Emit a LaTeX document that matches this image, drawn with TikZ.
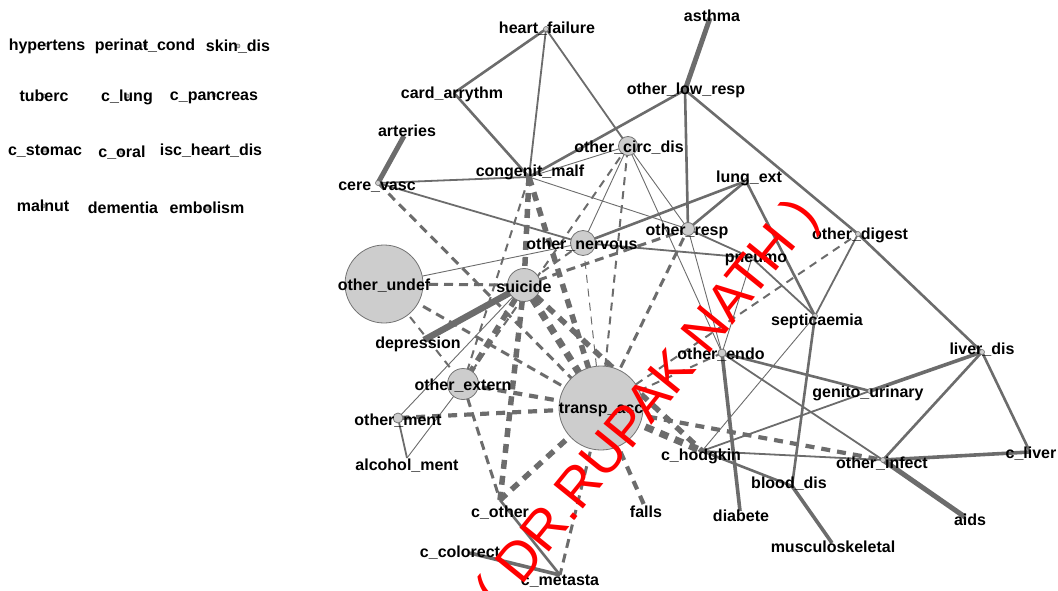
\documentclass[tikz,border=0pt]{standalone}
\usepackage{fontspec}
\setmainfont{Liberation Sans}
\definecolor{edgec}{RGB}{108,108,108}
\definecolor{vfill}{RGB}{205,205,205}
\definecolor{vline}{RGB}{115,115,115}
\definecolor{wmred}{RGB}{255,0,0}
\tikzset{
  lbl/.style={font=\fontsize{16}{18}\selectfont\bfseries, text height=11pt, text depth=0pt, inner sep=0pt},
  vtx/.style={circle, fill=vfill, draw=vline, line width=0.8pt, inner sep=0pt},
  dot/.style={circle, fill=vfill, draw=vline, line width=0.6pt, inner sep=0pt, minimum size=5pt},
  s1/.style={draw=edgec, line width=0.9pt},
  s2/.style={draw=edgec, line width=1.8pt},
  s3/.style={draw=edgec, line width=2.6pt},
  s4/.style={draw=edgec, line width=3.6pt},
  s5/.style={draw=edgec, line width=5pt},
  s6/.style={draw=edgec, line width=6.5pt},
  d1/.style={draw=edgec, line width=1pt, dash pattern=on 8pt off 6pt},
  d2/.style={draw=edgec, line width=2pt, dash pattern=on 8pt off 6pt},
  d3/.style={draw=edgec, line width=3pt, dash pattern=on 9pt off 6pt},
  d4/.style={draw=edgec, line width=4.2pt, dash pattern=on 9pt off 7pt},
  d5/.style={draw=edgec, line width=5.5pt, dash pattern=on 9pt off 7pt},
  d6/.style={draw=edgec, line width=7pt, dash pattern=on 9pt off 7pt},
  wm/.style={text=wmred, font=\fontsize{55}{62}\selectfont, inner sep=0pt}
}
\begin{document}
\begin{tikzpicture}[x=1pt,y=-1pt]
\useasboundingbox (0,0) rectangle (1058,591);
% vertices
\coordinate (hf) at (546,29);
\coordinate (ast) at (710,18);
\coordinate (ca) at (454,93);
\coordinate (olr) at (685,90);
\coordinate (art) at (404,136);
\coordinate (cv) at (378,183);
\coordinate (cm) at (529,177);
\coordinate (ocd) at (628,146);
\coordinate (le) at (746,181);
\coordinate (ores) at (688,229);
\coordinate (odig) at (858,234);
\coordinate (pn) at (752,258);
\coordinate (sep) at (815,316);
\coordinate (oend) at (722,353);
\coordinate (ld) at (982,352);
\coordinate (gu) at (870,391);
\coordinate (ch) at (702,451);
\coordinate (oinf) at (883,460);
\coordinate (cl) at (1030,452);
\coordinate (bd) at (792,486);
\coordinate (dia) at (740,511);
\coordinate (aids) at (965,517);
\coordinate (mus) at (832,543);
\coordinate (falls) at (645,507);
\coordinate (cot) at (500,500);
\coordinate (ccol) at (470,553);
\coordinate (cmet) at (560,575);
\coordinate (alc) at (407,458);
\coordinate (oment) at (398,418);
\coordinate (dep) at (424,340);
\coordinate (oext) at (463,384);
\coordinate (sui) at (524,285);
\coordinate (onerv) at (583,243);
\coordinate (oundef) at (384,284);
\coordinate (ta) at (601,408);
% solid edges
\draw[s3] (hf) -- (ca);
\draw[s2] (hf) -- (cm);
\draw[s2] (hf) -- (ocd);
\draw[s3] (ca) -- (cm);
\draw[s3] (cm) -- (olr);
\draw[s1] (cm) -- (ocd);
\draw[s1] (cm) -- (ores);
\draw[s2] (cv) -- (cm);
\draw[s5] (art) -- (cv);
\draw[s2] (cv) -- (onerv);
\draw[s1] (oundef) -- (onerv);
\draw[s3] (onerv) -- (le);
\draw[s2] (onerv) -- (pn);
\draw[s1] (ocd) -- (onerv);
\draw[s1] (ocd) -- (ores);
\draw[s1] (ocd) -- (oend);
\draw[s3] (ores) -- (le);
\draw[s3] (olr) -- (ores);
\draw[s5] (ast) -- (olr);
\draw[s3] (olr) -- (odig);
\draw[s3] (odig) -- (ld);
\draw[s3] (le) -- (sep);
\draw[s2] (ores) -- (pn);
\draw[s2] (pn) -- (sep);
\draw[s2] (odig) -- (sep);
\draw[s3] (sep) -- (bd);
\draw[s1] (sep) -- (ch);
\draw[s1] (pn) -- (oend);
\draw[s1] (ores) -- (oend);
\draw[s4] (oend) -- (dia);
\draw[s3] (oend) -- (gu);
\draw[s2] (oend) -- (oinf);
\draw[s4] (gu) -- (ld);
\draw[s2] (gu) -- (ch);
\draw[s3] (ld) -- (oinf);
\draw[s3] (ld) -- (cl);
\draw[s4] (oinf) -- (cl);
\draw[s5] (oinf) -- (aids);
\draw[s2] (ch) -- (oinf);
\draw[s3] (ch) -- (bd);
\draw[s4] (bd) -- (mus);
\draw[s6] (dep) -- (sui);
\draw[s1] (sui) -- (oment);
\draw[s1] (oext) -- (alc);
\draw[s2] (oment) -- (alc);
\draw[s3] (cot) -- (cmet);
\draw[s4] (ccol) -- (cmet);
% dashed edges
\draw[d5] (cm) -- (sui);
\draw[d5] (cm) -- (ta);
\draw[d2] (cm) -- (oext);
\draw[d3] (cv) -- (ta);
\draw[d3] (oundef) -- (sui);
\draw[d3] (oundef) -- (ta);
\draw[d2] (oundef) -- (oext);
\draw[d6] (sui) -- (ta);
\draw[d5] (sui) -- (cot);
\draw[d5] (sui) -- (oext);
\draw[d5] (sui) -- (ch);
\draw[d3] (sui) -- (ores);
\draw[d2] (onerv) -- (sui);
\draw[d2] (ocd) -- (oext);
\draw[d4] (ta) -- (oment);
\draw[d4] (ta) -- (oext);
\draw[d5] (ta) -- (cot);
\draw[d3] (ta) -- (cmet);
\draw[d4] (ta) -- (falls);
\draw[d6] (ta) -- (ch);
\draw[d4] (ta) -- (oinf);
\draw[d3] (ta) -- (ores);
\draw[d2] (ta) -- (oend);
\draw[d2] (ta) -- (odig);
\draw[d1] (ta) -- (onerv);
\draw[d2] (ta) -- (ocd);
\draw[d3] (oext) -- (cot);
% vertex circles
\node[vtx, minimum size=78pt] (oundef-c) at (oundef) {};
\node[vtx, minimum size=84pt] (ta-c) at (ta) {};
\node[vtx, minimum size=33pt] (sui-c) at (sui) {};
\node[vtx, minimum size=25pt] (onerv-c) at (onerv) {};
\node[vtx, minimum size=31pt] (oext-c) at (oext) {};
\node[vtx, minimum size=19pt] (ocd-c) at (ocd) {};
\node[vtx, minimum size=13pt] (ores-c) at (ores) {};
\node[vtx, minimum size=10pt] (oment-c) at (oment) {};
\node[vtx, minimum size=8pt] (oend-c) at (oend) {};
\foreach \v in {hf,cv,le,odig,gu,oinf,pn,sep,ld}
  \node[dot] (\v-c) at (\v) {};
% labels
\node[lbl] (hf-l) at (547,28) {heart\_failure};
\node[lbl] (ast-l) at (712,16) {asthma};
\node[lbl] (ca-l) at (452,93) {card\_arrythm};
\node[lbl] (olr-l) at (686,89) {other\_low\_resp};
\node[lbl] (art-l) at (407,131) {arteries};
\node[lbl] (cv-l) at (377,185) {cere\_vasc};
\node[lbl] (cm-l) at (530,171) {congenit\_malf};
\node[lbl] (ocd-l) at (629,147) {other\_circ\_dis};
\node[lbl] (le-l) at (749,177) {lung\_ext};
\node[lbl] (ores-l) at (687,230) {other\_resp};
\node[lbl] (odig-l) at (860,234) {other\_digest};
\node[lbl] (pn-l) at (756,257) {pneumo};
\node[lbl] (sep-l) at (817,320) {septicaemia};
\node[lbl] (oend-l) at (721,354) {other\_endo};
\node[lbl] (ld-l) at (982,349) {liver\_dis};
\node[lbl] (gu-l) at (868,392) {genito\_urinary};
\node[lbl] (ch-l) at (701,455) {c\_hodgkin};
\node[lbl] (oinf-l) at (882,463) {other\_infect};
\node[lbl] (cl-l) at (1031,453) {c\_liver};
\node[lbl] (bd-l) at (789,483) {blood\_dis};
\node[lbl] (dia-l) at (741,516) {diabete};
\node[lbl] (aids-l) at (970,520) {aids};
\node[lbl] (mus-l) at (833,547) {musculoskeletal};
\node[lbl] (falls-l) at (646,512) {falls};
\node[lbl] (cot-l) at (500,512) {c\_other};
\node[lbl] (ccol-l) at (460,552) {c\_colorect};
\node[lbl] (cmet-l) at (560,580) {c\_metasta};
\node[lbl] (alc-l) at (407,465) {alcohol\_ment};
\node[lbl] (oment-l) at (398,420) {other\_ment};
\node[lbl] (dep-l) at (418,343) {depression};
\node[lbl] (oext-l) at (463,385) {other\_extern};
\node[lbl] (sui-l) at (524,287) {suicide};
\node[lbl] (onerv-l) at (582,244) {other\_nervous};
\node[lbl] (oundef-l) at (384,285) {other\_undef};
\node[lbl] (ta-l) at (601,408) {transp\_acc};
% isolated vertices
\foreach \n/\x/\y/\t in {hyp/47/45/hypertens, per/145/45/perinat\_cond, skin/238/46/skin\_dis,
  tub/44/96/tuberc, clung/127/96/c\_lung, cpan/214/95/c\_pancreas,
  cstom/45/150/c\_stomac, coral/122/152/c\_oral, isc/211/150/isc\_heart\_dis,
  maln/43/206/malnut, dem/123/208/dementia, emb/207/208/embolism} {
  \node[dot, minimum size=4pt] (\n-c) at (\x,\y) {};
  \node[lbl] (\n-l) at (\x,\y) {\t};
}
% watermark
\node[wm, rotate=51] (wmark) at (649,406) {( DR.RUPAK NATH )};
\end{tikzpicture}
\end{document}
